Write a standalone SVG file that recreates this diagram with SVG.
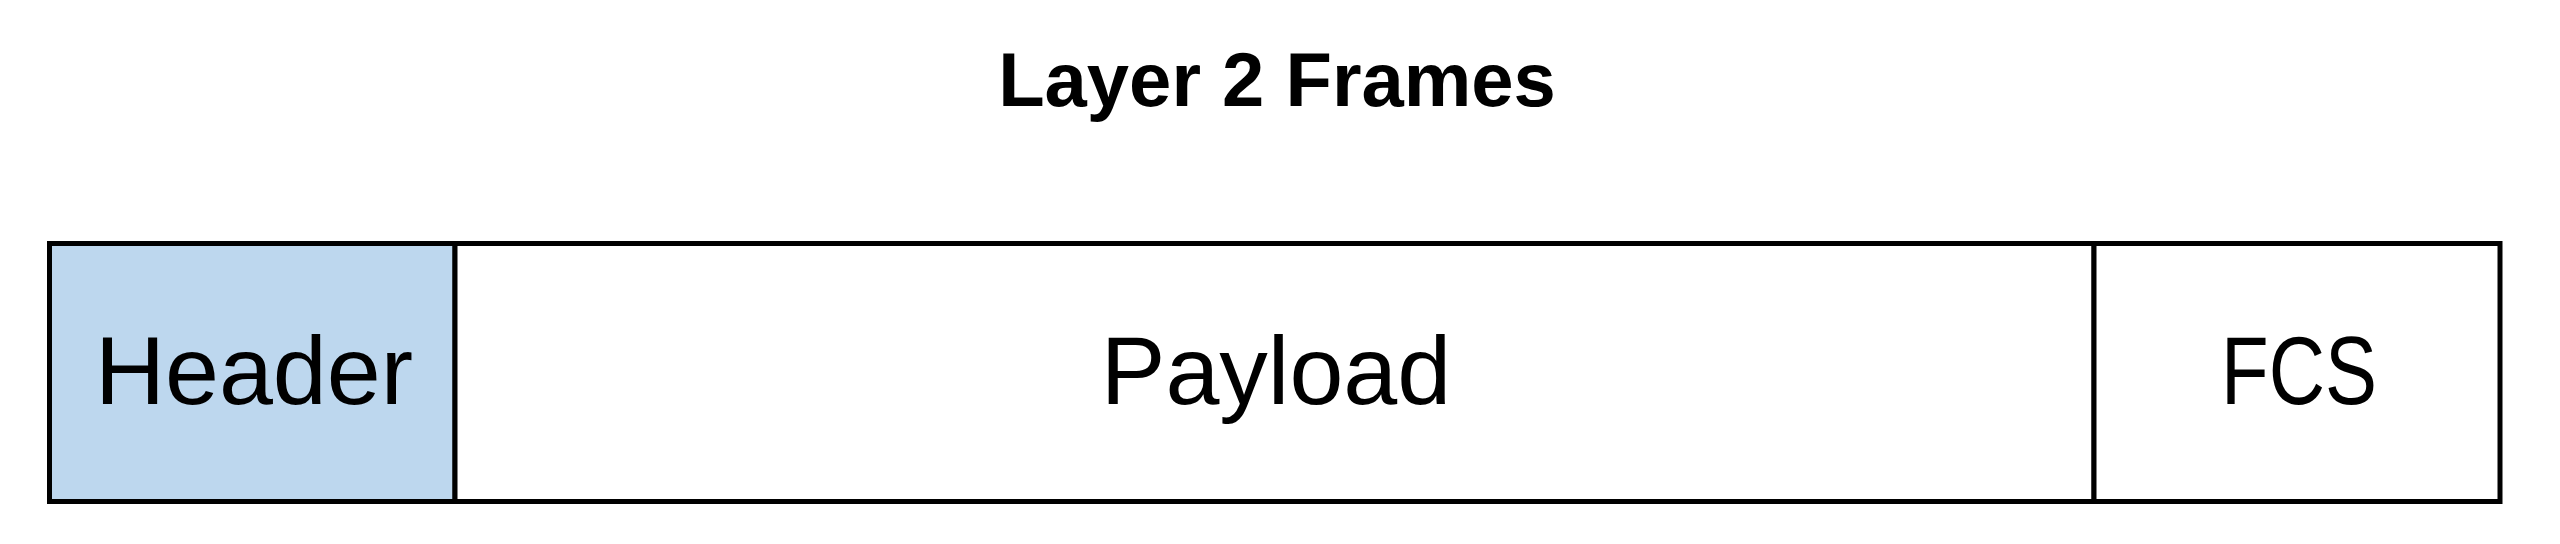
<svg xmlns="http://www.w3.org/2000/svg" width="2560" height="544" viewBox="0 0 2560 544">
  <style>
    .cell { stroke: #000000; stroke-width: 5; }
    .label { font-family: "Liberation Sans", Arial, sans-serif; font-size: 97px; fill: #000000; text-anchor: middle; }
    .title { font-family: "Liberation Sans", Arial, sans-serif; font-size: 76px; font-weight: bold; fill: #000000; text-anchor: middle; }
  </style>
  <rect x="0" y="0" width="2560" height="544" fill="#FFFFFF"/>
  <g id="title">
    <text class="title" x="1277" y="106">Layer 2 Frames</text>
  </g>
  <g id="header">
    <rect class="cell" x="49.5" y="243.5" width="405.5" height="258" fill="#BDD7EE"/>
    <text class="label" x="254" y="404">Header</text>
  </g>
  <g id="payload">
    <rect class="cell" x="455" y="243.5" width="1639" height="258" fill="#FFFFFF"/>
    <text class="label" x="1276" y="404">Payload</text>
  </g>
  <g id="fcs">
    <rect class="cell" x="2094" y="243.5" width="406" height="258" fill="#FFFFFF"/>
    <text class="label" x="2299" y="404" textLength="156" lengthAdjust="spacingAndGlyphs">FCS</text>
  </g>
  <g id="connectors"></g>
</svg>
